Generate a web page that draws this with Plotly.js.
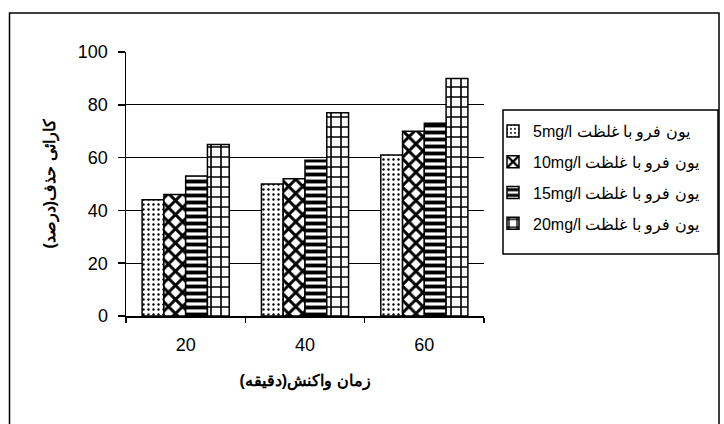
<!DOCTYPE html>
<html>
<head>
<meta charset="utf-8">
<script src="https://cdn.plot.ly/plotly-3.0.1.min.js"></script>
<style>
html,body{margin:0;padding:0;background:#fff;}
#chart{width:724px;height:424px;}
</style>
</head>
<body>
<div id="chart"></div>
<script>
// Data
const categories = ['20', '40', '60'];
const seriesNames = [
  'یون فرو با غلظت 5mg/l',
  'یون فرو با غلظت 10mg/l',
  'یون فرو با غلظت 15mg/l',
  'یون فرو با غلظت 20mg/l'
];
const values5 = [44, 50, 61];
const values10 = [46, 52, 70];
const values15 = [53, 59, 73];
const values20 = [65, 77, 90];
const yTickVals = [0, 20, 40, 60, 80, 100];
const xTitle = 'زمان واکنش(دقیقه)';
const yTitle = 'کارائی حذف(درصد)';

const RLE = '\u202B', PDF = '\u202C';
const rtl = s => RLE + s + PDF;

const W = 724, H = 424;
const L = 126, R = 484, T = 52, B = 316;
const px = x => (x - L) / (R - L);
const py = y => (B - y) / (B - T);

const patterns = [
  {shape: '.', size: 5, solidity: 0.18, fgcolor: '#000', bgcolor: '#fff', fillmode: 'replace'},
  {shape: 'x', size: 10, solidity: 0.5, fgcolor: '#000', bgcolor: '#fff', fillmode: 'replace'},
  {shape: '-', size: 7, solidity: 0.55, fgcolor: '#000', bgcolor: '#fff', fillmode: 'replace'},
  {shape: '+', size: 10, solidity: 0.3, fgcolor: '#000', bgcolor: '#fff', fillmode: 'replace'}
];
const allValues = [values5, values10, values15, values20];

const traces = allValues.map((vals, i) => ({
  type: 'bar',
  x: categories,
  y: vals,
  name: rtl(seriesNames[i]),
  legendgroup: 'g' + i,
  marker: {color: '#fff', line: {color: '#000', width: 1.5}, pattern: patterns[i]},
  hoverinfo: 'skip'
}));

const layout = {
  width: W, height: H,
  margin: {l: L, r: W - R, t: T, b: H - B, pad: 0},
  paper_bgcolor: '#fff', plot_bgcolor: '#fff',
  barmode: 'group', bargap: 0.27, bargroupgap: 0,
  font: {family: 'Liberation Sans, Arial, sans-serif', size: 18, color: '#000'},
  showlegend: true,
  legend: {
    x: px(493), y: py(114), xanchor: 'left', yanchor: 'top',
    traceorder: 'grouped', tracegroupgap: 7,
    font: {size: 16, family: 'Liberation Sans, Arial, sans-serif', color: '#000'},
    bgcolor: 'rgba(0,0,0,0)', borderwidth: 0
  },
  xaxis: {
    type: 'category',
    showline: true, linecolor: '#000', linewidth: 1.5,
    ticks: 'outside', tickson: 'boundaries', ticklen: 5, tickcolor: '#000', tickwidth: 1.5,
    ticklabelstandoff: 12,
    showgrid: false,
    tickfont: {size: 18},
    title: {text: rtl(xTitle), font: {size: 16, weight: 'bold'}, standoff: 20}
  },
  yaxis: {
    range: [0, 100], tickvals: yTickVals,
    showline: true, linecolor: '#000', linewidth: 1.5,
    ticks: 'outside', ticklen: 7, tickcolor: '#000', tickwidth: 1.5,
    ticklabelstandoff: 6,
    showgrid: true, gridcolor: '#000', gridwidth: 1.2,
    zeroline: false,
    tickfont: {size: 18},
    title: {text: rtl(yTitle), font: {size: 16, weight: 'bold'}, standoff: 18}
  },
  shapes: [
    {type: 'rect', xref: 'paper', yref: 'paper', x0: px(9.5), x1: px(719), y0: py(432), y1: py(13), line: {color: '#000', width: 1.5}, fillcolor: 'rgba(0,0,0,0)'},
    {type: 'rect', xref: 'paper', yref: 'paper', x0: px(503), x1: px(718), y0: py(254), y1: py(110), line: {color: '#000', width: 1.5}, fillcolor: 'rgba(0,0,0,0)'}
  ]
};

Plotly.newPlot('chart', traces, layout, {displayModeBar: false, staticPlot: true});
</script>
</body>
</html>
